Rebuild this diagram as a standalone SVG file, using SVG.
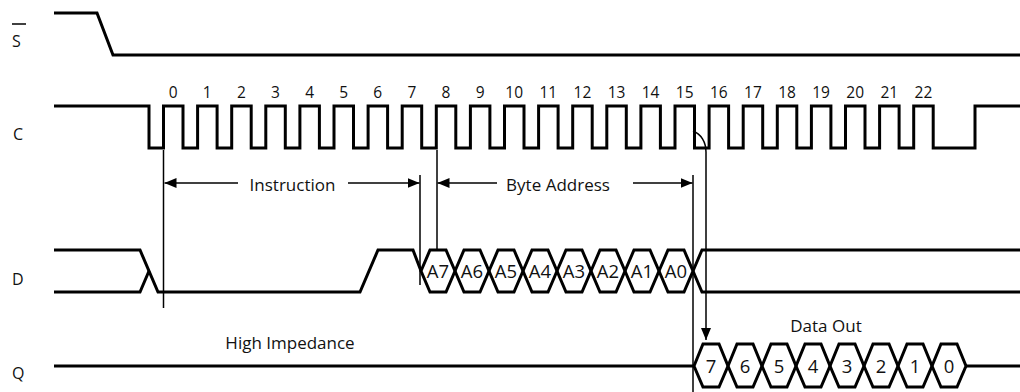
<svg xmlns="http://www.w3.org/2000/svg" width="1020" height="392" viewBox="0 0 1020 392">
<style>
.sig{fill:none;stroke:#000;stroke-width:3;stroke-linejoin:miter}
.thin{fill:none;stroke:#000;stroke-width:1.5}
.lbl{font-family:"Open Sans","Liberation Sans",sans-serif;font-size:16px;fill:#111}
.num{font-family:"Open Sans","Liberation Sans",sans-serif;font-size:15.5px;fill:#111;text-anchor:middle}
.txt{font-family:"Open Sans","Liberation Sans",sans-serif;font-size:17px;fill:#111;text-anchor:middle}
.hex{font-family:"Open Sans","Liberation Sans",sans-serif;font-size:18.5px;fill:#111;text-anchor:middle}
</style>
<defs>
<marker id="ah" viewBox="0 0 12 10" refX="12" refY="5" markerWidth="12" markerHeight="10" markerUnits="userSpaceOnUse" orient="auto-start-reverse">
<path d="M0,0 L12,5 L0,10 Z" fill="#000"/>
</marker>
</defs>
<rect width="1020" height="392" fill="#fff"/>

<g id="signal-S">
<text class="lbl" x="12" y="47">S</text>
<line class="thin" x1="12" y1="24" x2="26" y2="24"/>
<path class="sig" d="M54,13 H97 L113,55 H1020"/>
</g>

<g id="signal-C">
<text class="lbl" x="13" y="140">C</text>
<path class="sig" d="M54,106 H149 V148 H163.5 V106 H183 V148 H197.6 V106 H217.1 V148 H231.7 V106 H251.2 V148 H265.8 V106 H285.3 V148 H299.9 V106 H319.4 V148 H334 V106 H353.5 V148 H368.1 V106 H387.6 V148 H402.2 V106 H421.7 V148 H436.3 V106 H455.8 V148 H470.4 V106 H489.9 V148 H504.5 V106 H524 V148 H538.6 V106 H558.1 V148 H572.7 V106 H592.2 V148 H606.8 V106 H626.3 V148 H640.9 V106 H660.4 V148 H675 V106 H694.5 V148 H709.1 V106 H728.6 V148 H743.2 V106 H762.7 V148 H777.3 V106 H796.8 V148 H811.4 V106 H830.9 V148 H845.5 V106 H865 V148 H879.6 V106 H899.1 V148 H913.7 V106 H933.2 V148 H975 V106 H1020"/>
<text class="num" x="173.2" y="98">0</text>
<text class="num" x="207.3" y="98">1</text>
<text class="num" x="241.4" y="98">2</text>
<text class="num" x="275.5" y="98">3</text>
<text class="num" x="309.6" y="98">4</text>
<text class="num" x="343.7" y="98">5</text>
<text class="num" x="377.8" y="98">6</text>
<text class="num" x="411.9" y="98">7</text>
<text class="num" x="446" y="98">8</text>
<text class="num" x="480.1" y="98">9</text>
<text class="num" x="514.2" y="98">10</text>
<text class="num" x="548.3" y="98">11</text>
<text class="num" x="582.4" y="98">12</text>
<text class="num" x="616.5" y="98">13</text>
<text class="num" x="650.6" y="98">14</text>
<text class="num" x="684.7" y="98">15</text>
<text class="num" x="718.8" y="98">16</text>
<text class="num" x="752.9" y="98">17</text>
<text class="num" x="787" y="98">18</text>
<text class="num" x="821.1" y="98">19</text>
<text class="num" x="855.2" y="98">20</text>
<text class="num" x="889.3" y="98">21</text>
<text class="num" x="923.4" y="98">22</text>
</g>

<g id="signal-D">
<text class="lbl" x="12" y="285">D</text>
<path class="sig" d="M54,250 H140 L158,292 H360 L378,250 H413 L421,271"/>
<path class="sig" d="M54,292 H140 L149,271"/>
<path class="sig" d="M421,271 L430,250 H446 L455,271 L446,292 H430 Z"/>
<path class="sig" d="M455,271 L464,250 H480 L489,271 L480,292 H464 Z"/>
<path class="sig" d="M489,271 L498,250 H514 L523,271 L514,292 H498 Z"/>
<path class="sig" d="M523,271 L532,250 H548 L557,271 L548,292 H532 Z"/>
<path class="sig" d="M557,271 L566,250 H582 L591,271 L582,292 H566 Z"/>
<path class="sig" d="M591,271 L600,250 H616 L625,271 L616,292 H600 Z"/>
<path class="sig" d="M625,271 L634,250 H650 L659,271 L650,292 H634 Z"/>
<path class="sig" d="M659,271 L668,250 H684 L693,271 L684,292 H668 Z"/>
<path class="sig" d="M693,271 L702,250 H1020 M693,271 L702,292 H1020"/>
<text class="hex" x="438" y="278">A7</text>
<text class="hex" x="472" y="278">A6</text>
<text class="hex" x="506" y="278">A5</text>
<text class="hex" x="540" y="278">A4</text>
<text class="hex" x="574" y="278">A3</text>
<text class="hex" x="608" y="278">A2</text>
<text class="hex" x="642" y="278">A1</text>
<text class="hex" x="676" y="278">A0</text>
</g>

<g id="signal-Q">
<text class="lbl" x="12" y="379">Q</text>
<text class="txt" x="290" y="349">High Impedance</text>
<text class="txt" x="826" y="332">Data Out</text>
<path class="sig" d="M54,366 H694"/>
<path class="sig" d="M694,366 L703,344 H719 L728,366 L719,387 H703 Z"/>
<path class="sig" d="M728,366 L737,344 H753 L762,366 L753,387 H737 Z"/>
<path class="sig" d="M762,366 L771,344 H787 L796,366 L787,387 H771 Z"/>
<path class="sig" d="M796,366 L805,344 H821 L830,366 L821,387 H805 Z"/>
<path class="sig" d="M830,366 L839,344 H855 L864,366 L855,387 H839 Z"/>
<path class="sig" d="M864,366 L873,344 H889 L898,366 L889,387 H873 Z"/>
<path class="sig" d="M898,366 L907,344 H923 L932,366 L923,387 H907 Z"/>
<path class="sig" d="M932,366 L941,344 H957 L966,366 L957,387 H941 Z"/>
<path class="sig" d="M966,366 H1020"/>
<text class="hex" x="711" y="373">7</text>
<text class="hex" x="745" y="373">6</text>
<text class="hex" x="779" y="373">5</text>
<text class="hex" x="813" y="373">4</text>
<text class="hex" x="847" y="373">3</text>
<text class="hex" x="881" y="373">2</text>
<text class="hex" x="915" y="373">1</text>
<text class="hex" x="949" y="373">0</text>
</g>

<g id="connectors">
<line class="thin" x1="163.5" y1="150" x2="163.5" y2="308"/>
<line class="thin" x1="420" y1="175" x2="420" y2="285"/>
<line class="thin" x1="437" y1="150" x2="437" y2="250"/>
<line class="thin" x1="693" y1="175" x2="693" y2="392"/>
<line class="thin" x1="238" y1="183" x2="164.5" y2="183" marker-end="url(#ah)"/>
<line class="thin" x1="348" y1="183" x2="419.5" y2="183" marker-end="url(#ah)"/>
<text class="txt" x="292.5" y="191">Instruction</text>
<line class="thin" x1="497" y1="183" x2="437.5" y2="183" marker-end="url(#ah)"/>
<line class="thin" x1="633" y1="183" x2="692.5" y2="183" marker-end="url(#ah)"/>
<text class="txt" x="558" y="191">Byte Address</text>
<path class="thin" d="M693,131 C701,134 706,142 706,152 V340" marker-end="url(#ah)"/>
</g>
</svg>
